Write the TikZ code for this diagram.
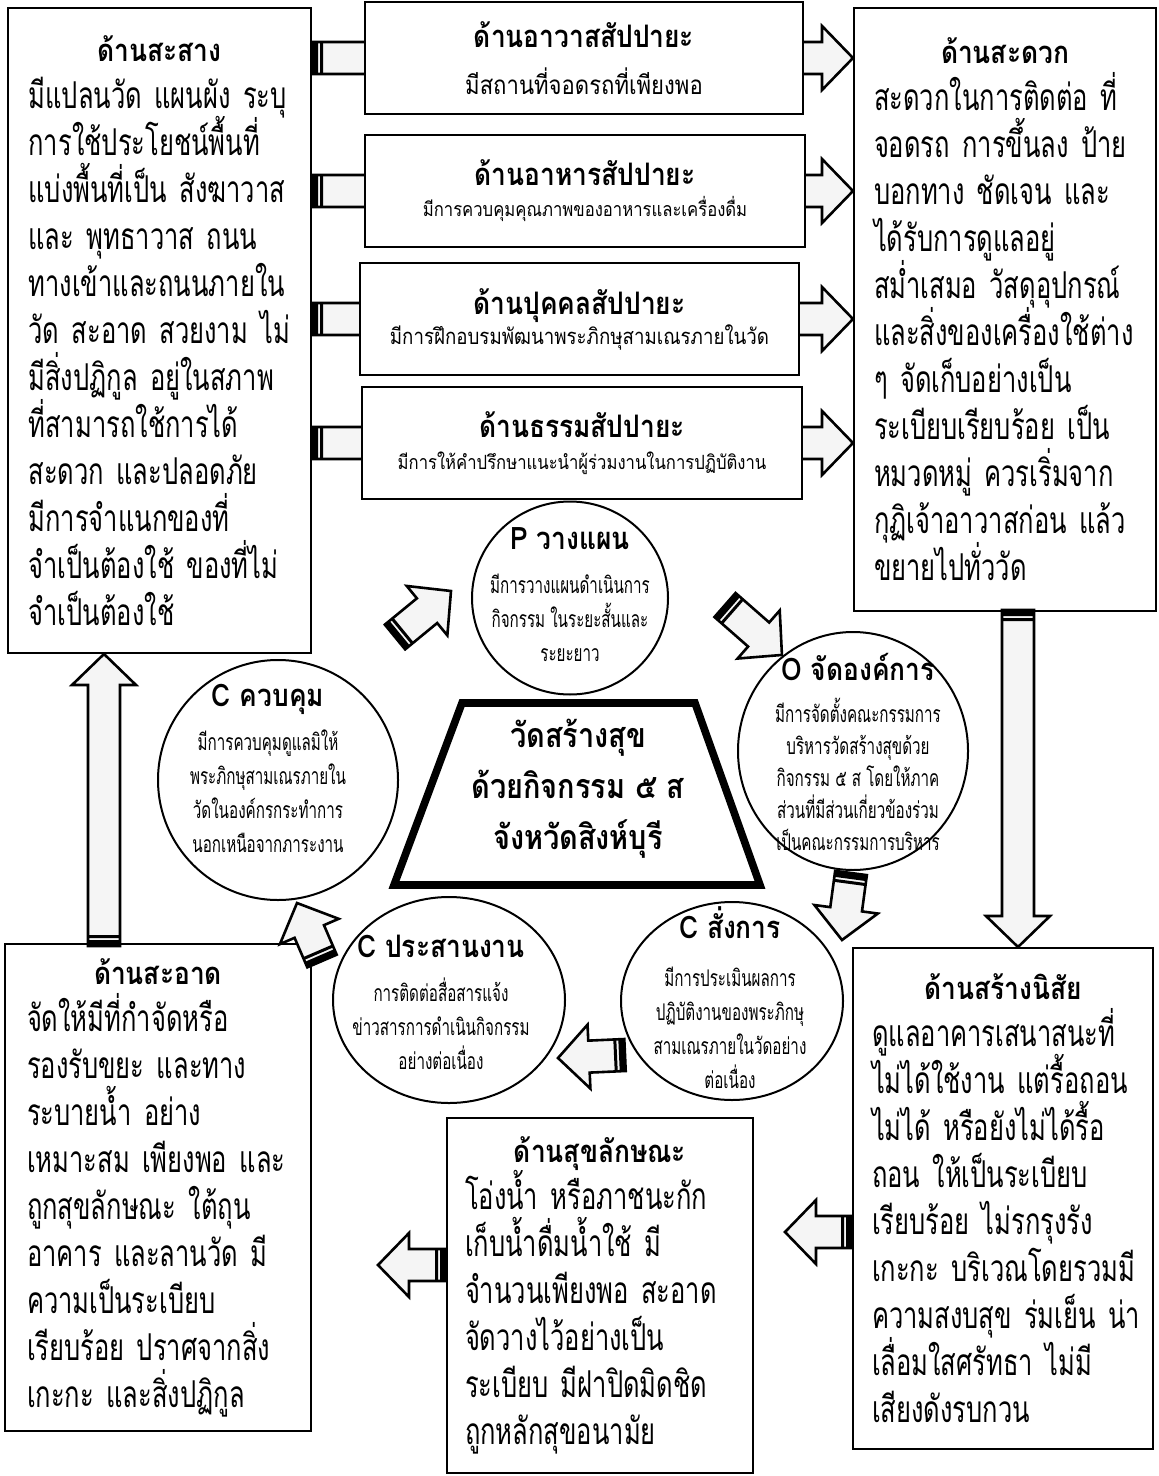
\documentclass[tikz,border=0pt]{standalone}
\usepackage{fontspec}
\newfontfamily\thai[Script=Thai,FakeStretch=0.85]{Loma}
\newfontfamily\thaibody[Script=Thai,FakeStretch=0.69]{Loma}
\newfontfamily\thaicond[Script=Thai,FakeStretch=0.66]{Loma}
\usetikzlibrary{shapes.geometric}

\pgfdeclarelayer{back}
\pgfsetlayers{back,main}

\newcommand{\bodyfont}{\thaibody\fontsize{18.5}{23.5}\selectfont\lineskiplimit=-\maxdimen}
\newcommand{\midfont}[2]{\thai\fontsize{#1}{#2}\selectfont\lineskiplimit=-\maxdimen}
\newcommand{\ringfont}{\thaicond\fontsize{11.5}{17}\selectfont\lineskiplimit=-\maxdimen}
\newcommand{\boxhead}[1]{{\thai\bfseries\fontsize{15.5}{15.5}\selectfont #1}}
\newcommand{\ringhead}[1]{{\thai\bfseries\fontsize{15.5}{15.5}\selectfont #1}}
\newcommand{\jl}[1]{\makebox[\linewidth][s]{#1}}
\newcommand{\lft}[1]{\makebox[\linewidth][l]{#1}}

% block arrow with striped tail, from #1 to #2
\newcommand{\stripedarrow}[2]{%
  \path (#1); \pgfgetlastxy{\sax}{\say}%
  \path (#2); \pgfgetlastxy{\sbx}{\sby}%
  \pgfmathsetmacro{\sang}{atan2((\sby)-(\say),(\sbx)-(\sax))}%
  \pgfmathsetmacro{\slen}{2*veclen((\sbx)-(\sax),(\sby)-(\say))}%
  \begin{scope}[shift={(#1)}, rotate=\sang, x=0.5pt, y=0.5pt]
    \draw[arrowbody] (0,-16) -- (\slen-31,-16) -- (\slen-31,-32) -- (\slen,0)
      -- (\slen-31,32) -- (\slen-31,16) -- (0,16) -- cycle;
    \fill (0,-16) rectangle (6,16) (8,-16) rectangle (11,16);
  \end{scope}}

\begin{document}
\begin{tikzpicture}[x=0.5pt, y=-0.5pt,
  bigbox/.style={draw, line width=1pt, fill=white, anchor=north west, inner sep=0pt,
    align=center, text width=131pt, font=\bodyfont},
  midbox/.style={draw, line width=1pt, fill=white, anchor=north west, inner sep=0pt,
    align=center, text width=210pt},
  ring/.style={draw, ellipse, line width=1pt, inner sep=0pt},
  ringtext/.style={align=center, inner sep=0pt, font=\ringfont},
  arrowbody/.style={draw, fill=gray!8, line width=1.3pt, line join=miter}]

  \useasboundingbox (0,0) rectangle (1158,1476);

  \node[bigbox, minimum width=151.5pt, minimum height=322.5pt] (sasang) at (7,7)
    {\boxhead{ด้านสะสาง}\\
     \jl{มีแปลนวัด แผนผัง ระบุ}\\
     \lft{การใช้ประโยชน์พื้นที่}\\
     \jl{แบ่งพื้นที่เป็น สังฆาวาส}\\
     \jl{และ พุทธาวาส ถนน}\\
     \lft{ทางเข้าและถนนภายใน}\\
     \jl{วัด สะอาด สวยงาม ไม่}\\
     \jl{มีสิ่งปฏิกูล อยู่ในสภาพ}\\
     \lft{ที่สามารถใช้การได้}\\
     \lft{สะดวก และปลอดภัย}\\
     \lft{มีการจำแนกของที่}\\
     \jl{จำเป็นต้องใช้ ของที่ไม่}\\
     \lft{จำเป็นต้องใช้}};

  \node[bigbox, minimum width=151pt, minimum height=301.5pt] (sadouak) at (853,7)
    {\boxhead{ด้านสะดวก}\\
     \jl{สะดวกในการติดต่อ ที่}\\
     \jl{จอดรถ การขึ้นลง ป้าย}\\
     \jl{บอกทาง ชัดเจน และ}\\
     \lft{ได้รับการดูแลอยู่}\\
     \jl{สม่ำเสมอ วัสดุอุปกรณ์}\\
     \lft{และสิ่งของเครื่องใช้ต่าง}\\
     \jl{ๆ จัดเก็บอย่างเป็น}\\
     \jl{ระเบียบเรียบร้อย เป็น}\\
     \jl{หมวดหมู่ ควรเริ่มจาก}\\
     \jl{กุฏิเจ้าอาวาสก่อน แล้ว}\\
     \lft{ขยายไปทั่ววัด}};

  \node[bigbox, minimum width=153pt, minimum height=243.5pt] (saart) at (4,943)
    {\boxhead{ด้านสะอาด}\\
     \lft{จัดให้มีที่กำจัดหรือ}\\
     \jl{รองรับขยะ และทาง}\\
     \jl{ระบายน้ำ อย่าง}\\
     \jl{เหมาะสม เพียงพอ และ}\\
     \jl{ถูกสุขลักษณะ ใต้ถุน}\\
     \jl{อาคาร และลานวัด มี}\\
     \lft{ความเป็นระเบียบ}\\
     \jl{เรียบร้อย ปราศจากสิ่ง}\\
     \lft{เกะกะ และสิ่งปฏิกูล}};

  \node[bigbox, minimum width=150pt, minimum height=250.5pt] (nisai) at (852,947)
    {\boxhead{ด้านสร้างนิสัย}\\
     \lft{ดูแลอาคารเสนาสนะที่}\\
     \jl{ไม่ได้ใช้งาน แต่รื้อถอน}\\
     \jl{ไม่ได้ หรือยังไม่ได้รื้อ}\\
     \jl{ถอน ให้เป็นระเบียบ}\\
     \jl{เรียบร้อย ไม่รกรุงรัง}\\
     \jl{เกะกะ บริเวณโดยรวมมี}\\
     \jl{ความสงบสุข ร่มเย็น น่า}\\
     \jl{เลื่อมใสศรัทธา ไม่มี}\\
     \lft{เสียงดังรบกวน}};

  \node[bigbox, text width=135pt, minimum width=153pt, minimum height=177.5pt] (sukha) at (446,1117)
    {\boxhead{ด้านสุขลักษณะ}\\
     \jl{โอ่งน้ำ หรือภาชนะกัก}\\
     \jl{เก็บน้ำดื่มน้ำใช้ มี}\\
     \jl{จำนวนเพียงพอ สะอาด}\\
     \lft{จัดวางไว้อย่างเป็น}\\
     \jl{ระเบียบ มีฝาปิดมิดชิด}\\
     \lft{ถูกหลักสุขอนามัย}};

  % the four sappaya boxes sit on top of the arrows
  \foreach \name/\xx/\yy/\bw/\ttl/\subt/\fs/\ls in {
      avas/364/1/438/ด้านอาวาสสัปปายะ/มีสถานที่จอดรถที่เพียงพอ/13/23.5,
      ahan/364/134/440/ด้านอาหารสัปปายะ/มีการควบคุมคุณภาพของอาหารและเครื่องดื่ม/9.8/15.5,
      bukkhon/359/262/439/ด้านปุคคลสัปปายะ/มีการฝึกอบรมพัฒนาพระภิกษุสามเณรภายในวัด/11/15,
      tham/361/386/440/ด้านธรรมสัปปายะ/มีการให้คำปรึกษาแนะนำผู้ร่วมงานในการปฏิบัติงาน/9.8/16}{
    \node[midbox, minimum width=\bw*0.5pt, minimum height=56pt, font={\midfont{\fs}{\ls}}]
      (\name) at (\xx,\yy) {\boxhead{\ttl}\\ \subt};
  }

  \node[ring, minimum width=98pt, minimum height=96.5pt] (plan) at (570,598) {};
  \node[ring, minimum width=115pt, minimum height=119pt] (org) at (853,751) {};
  \node[ring, minimum width=120pt, minimum height=120pt] (control) at (278,780) {};
  \node[ring, minimum width=116pt, minimum height=103pt] (coord) at (449,1000) {};
  \node[ring, minimum width=111pt, minimum height=99pt] (command) at (732,1001) {};

  \node[ringtext] (plantxt) at (570,595)
    {\ringhead{P วางแผน}\\[5pt] มีการวางแผนดำเนินการ\\ กิจกรรม ในระยะสั้นและ\\ ระยะยาว};
  \node[ringtext, font={\ringfont\baselineskip=16pt}] (orgtxt) at (858,752)
    {\ringhead{O จัดองค์การ}\\[5pt] มีการจัดตั้งคณะกรรมการ\\ บริหารวัดสร้างสุขด้วย\\
     กิจกรรม ๕ ส โดยให้ภาค\\ ส่วนที่มีส่วนเกี่ยวข้องร่วม\\ เป็นคณะกรรมการบริหาร};
  \node[ringtext] (controltxt) at (268,768)
    {\ringhead{C ควบคุม}\\[5pt] มีการควบคุมดูแลมิให้\\ พระภิกษุสามเณรภายใน\\
     วัดในองค์กรกระทำการ\\ นอกเหนือจากภาระงาน};
  \node[ringtext] (coordtxt) at (441,1002)
    {\ringhead{C ประสานงาน}\\[5pt] การติดต่อสื่อสารแจ้ง\\ ข่าวสารการดำเนินกิจกรรม\\ อย่างต่อเนื่อง};
  \node[ringtext] (commandtxt) at (730,998)
    {\ringhead{C สั่งการ}\\[7pt] มีการประเมินผลการ\\ ปฏิบัติงานของพระภิกษุ\\
     สามเณรภายในวัดอย่าง\\ ต่อเนื่อง};

  % centre
  \draw[line width=3.8pt, line join=miter] (462,703) -- (695,703) -- (760,885) -- (394,885) -- cycle;
  \node[align=center, font={\thai\bfseries\fontsize{17}{25.5}\selectfont\lineskiplimit=-\maxdimen}]
    (hub) at (578,789) {วัดสร้างสุข\\ ด้วยกิจกรรม ๕ ส\\ จังหวัดสิงห์บุรี};

  \begin{pgfonlayer}{back}
    \foreach \name in {avas,ahan,bukkhon,tham}{
      \stripedarrow{sasang.east |- \name}{sadouak.west |- \name}
    }
  \end{pgfonlayer}

  \coordinate (downtail) at (1018,610);
  \coordinate (uptail) at (104,946);
  \coordinate (n2s) at (785,1232);
  \coordinate (s2a) at (378,1265);
  \coordinate (c2p-a) at (395,637);
  \coordinate (c2p-b) at (451,591);
  \coordinate (p2o-a) at (725,605);
  \coordinate (p2o-b) at (782,655);
  \coordinate (o2c-a) at (851,873);
  \coordinate (o2c-b) at (842,940);
  \coordinate (c2c-a) at (625,1055);
  \coordinate (c2c-b) at (558,1058);
  \coordinate (c2k-a) at (322,961);
  \coordinate (c2k-b) at (297,903);

  \stripedarrow{downtail}{downtail |- nisai.north}
  \stripedarrow{uptail}{uptail |- sasang.south}
  \stripedarrow{nisai.west |- n2s}{n2s}
  \stripedarrow{sukha.west |- s2a}{s2a}
  \stripedarrow{c2p-a}{c2p-b}
  \stripedarrow{p2o-a}{p2o-b}
  \stripedarrow{o2c-a}{o2c-b}
  \stripedarrow{c2c-a}{c2c-b}
  \stripedarrow{c2k-a}{c2k-b}

\end{tikzpicture}
\end{document}
